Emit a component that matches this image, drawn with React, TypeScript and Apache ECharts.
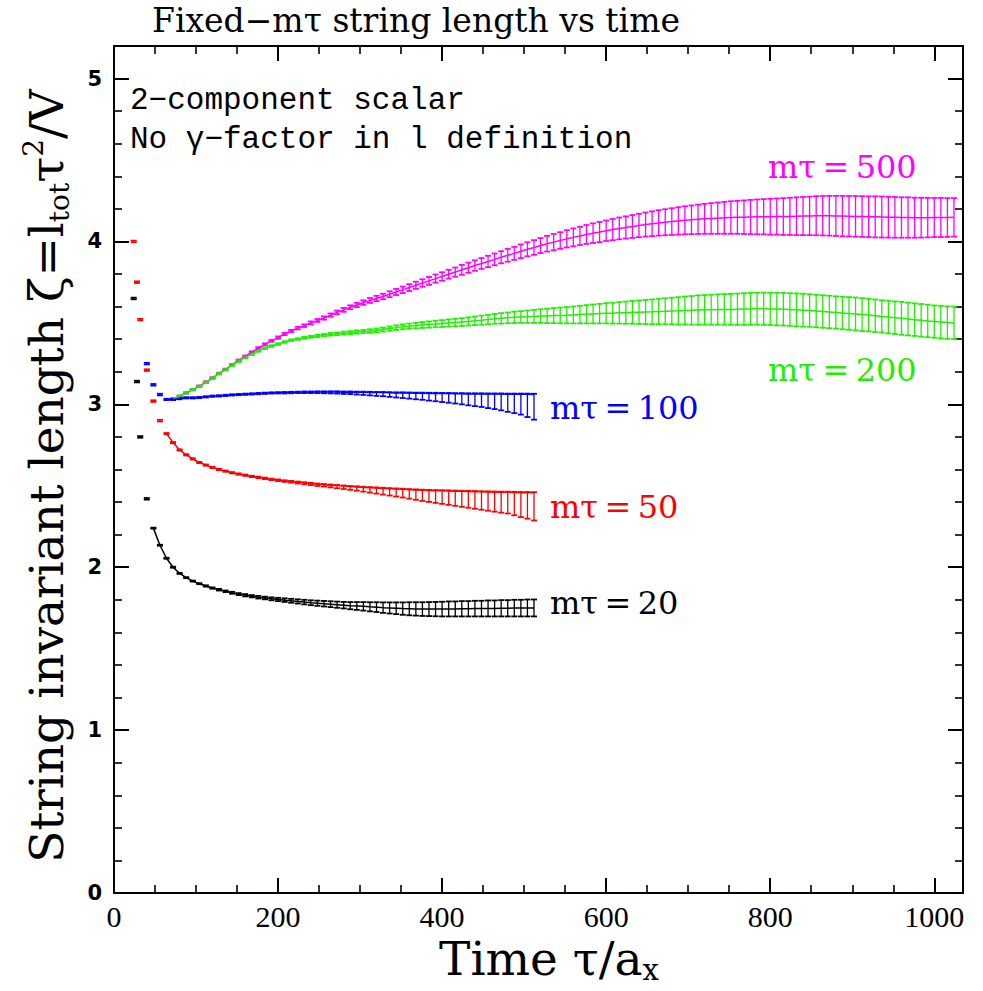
import React, { useEffect, useRef } from "react";
import * as echarts from "echarts";

// ---------------- data ----------------
// mτ=20 (black)
const T_BLACK_EARLY = [24, 28, 32, 40];
const V_BLACK_EARLY = [3.65, 3.14, 2.8, 2.42];
const T_BLACK = [
  48, 56, 64, 72, 80, 88, 96, 104, 112, 120,
  128, 136, 144, 152, 160, 168, 176, 184, 192, 200,
  208, 216, 224, 232, 240, 248, 256, 264, 272, 280,
  288, 296, 304, 312, 320, 328, 336, 344, 352, 360,
  368, 376, 384, 392, 400, 408, 416, 424, 432, 440,
  448, 456, 464, 472, 480, 488, 496, 504, 512,
];
const V_BLACK = [
  2.24, 2.135, 2.055, 2.0, 1.962, 1.936, 1.915, 1.899, 1.885, 1.872,
  1.862, 1.852, 1.843, 1.835, 1.828, 1.822, 1.816, 1.811, 1.806, 1.802,
  1.798, 1.794, 1.79, 1.786, 1.782, 1.779, 1.776, 1.773, 1.77, 1.767,
  1.764, 1.762, 1.76, 1.757, 1.755, 1.752, 1.75, 1.748, 1.746, 1.745,
  1.744, 1.743, 1.743, 1.743, 1.743, 1.744, 1.744, 1.745, 1.745, 1.746,
  1.746, 1.747, 1.747, 1.748, 1.748, 1.749, 1.749, 1.75, 1.75,
];
const E_BLACK = [
  0.003, 0.003, 0.003, 0.003, 0.003, 0.003, 0.003, 0.003, 0.004, 0.004,
  0.005, 0.005, 0.006, 0.006, 0.007, 0.007, 0.008, 0.008, 0.009, 0.01,
  0.011, 0.012, 0.013, 0.014, 0.015, 0.016, 0.017, 0.018, 0.019, 0.02,
  0.022, 0.024, 0.026, 0.028, 0.03, 0.032, 0.034, 0.036, 0.038, 0.04,
  0.041, 0.042, 0.043, 0.044, 0.045, 0.046, 0.046, 0.047, 0.047, 0.048,
  0.048, 0.049, 0.049, 0.05, 0.05, 0.051, 0.051, 0.052, 0.052,
];

// shared time grid of the mτ=50 and mτ=100 runs
const T_SHORT = [
  64, 72, 80, 88, 96, 104, 112, 120, 128, 136,
  144, 152, 160, 168, 176, 184, 192, 200, 208, 216,
  224, 232, 240, 248, 256, 264, 272, 280, 288, 296,
  304, 312, 320, 328, 336, 344, 352, 360, 368, 376,
  384, 392, 400, 408, 416, 424, 432, 440, 448, 456,
  464, 472, 480, 488, 496, 504, 512,
];

// mτ=50 (red)
const T_RED_EARLY = [24, 28, 32, 40, 48, 56];
const V_RED_EARLY = [4.0, 3.75, 3.52, 3.21, 3.02, 2.9];
const V_RED = [
  2.82, 2.765, 2.72, 2.69, 2.665, 2.643, 2.627, 2.613, 2.6, 2.59,
  2.58, 2.572, 2.565, 2.558, 2.552, 2.546, 2.54, 2.535, 2.53, 2.526,
  2.522, 2.518, 2.514, 2.51, 2.507, 2.504, 2.501, 2.498, 2.495, 2.493,
  2.49, 2.488, 2.486, 2.484, 2.482, 2.48, 2.478, 2.476, 2.474, 2.472,
  2.471, 2.47, 2.469, 2.468, 2.467, 2.466, 2.465, 2.464, 2.463, 2.462,
  2.461, 2.46, 2.46, 2.459, 2.458, 2.458, 2.457,
];
const ELO_RED = [
  0.004, 0.004, 0.004, 0.004, 0.004, 0.004, 0.004, 0.004, 0.004, 0.004,
  0.004, 0.004, 0.004, 0.005, 0.005, 0.005, 0.005, 0.006, 0.006, 0.007,
  0.008, 0.009, 0.01, 0.011, 0.012, 0.014, 0.016, 0.018, 0.02, 0.023,
  0.026, 0.03, 0.034, 0.038, 0.042, 0.046, 0.05, 0.055, 0.06, 0.065,
  0.07, 0.075, 0.08, 0.085, 0.09, 0.095, 0.1, 0.105, 0.11, 0.115,
  0.12, 0.125, 0.13, 0.14, 0.15, 0.16, 0.17,
];
const EHI_RED = 0.004;

// mτ=100 (blue)
const T_BLUE_EARLY = [40, 48, 56];
const V_BLUE_EARLY = [3.25, 3.12, 3.06];
const V_BLUE = [
  3.03, 3.03, 3.035, 3.04, 3.04, 3.042, 3.046, 3.05, 3.052, 3.055,
  3.058, 3.06, 3.062, 3.064, 3.066, 3.068, 3.07, 3.071, 3.072, 3.073,
  3.074, 3.075, 3.075, 3.076, 3.076, 3.076, 3.076, 3.075, 3.075, 3.074,
  3.074, 3.073, 3.072, 3.072, 3.071, 3.07, 3.07, 3.069, 3.068, 3.068,
  3.067, 3.067, 3.066, 3.066, 3.065, 3.065, 3.064, 3.064, 3.064, 3.063,
  3.063, 3.063, 3.062, 3.062, 3.062, 3.062, 3.061,
];
const ELO_BLUE = [
  0.004, 0.004, 0.004, 0.004, 0.004, 0.004, 0.004, 0.004, 0.004, 0.004,
  0.004, 0.004, 0.004, 0.004, 0.004, 0.004, 0.004, 0.004, 0.005, 0.005,
  0.005, 0.006, 0.006, 0.007, 0.008, 0.009, 0.01, 0.011, 0.012, 0.014,
  0.016, 0.018, 0.02, 0.022, 0.025, 0.028, 0.031, 0.034, 0.037, 0.04,
  0.044, 0.048, 0.052, 0.056, 0.06, 0.065, 0.07, 0.075, 0.08, 0.086,
  0.092, 0.1, 0.108, 0.116, 0.125, 0.14, 0.155,
];
const EHI_BLUE = 0.004;

// shared time grid of the mτ=200 and mτ=500 runs
const T_LONG = [
  72, 80, 88, 96, 104, 112, 120, 128, 136, 144,
  152, 160, 168, 176, 184, 192, 200, 208, 216, 224,
  232, 240, 248, 256, 264, 272, 280, 288, 296, 304,
  312, 320, 328, 336, 344, 352, 360, 368, 376, 384,
  392, 400, 408, 416, 424, 432, 440, 448, 456, 464,
  472, 480, 488, 496, 504, 512, 520, 528, 536, 544,
  552, 560, 568, 576, 584, 592, 600, 608, 616, 624,
  632, 640, 648, 656, 664, 672, 680, 688, 696, 704,
  712, 720, 728, 736, 744, 752, 760, 768, 776, 784,
  792, 800, 808, 816, 824, 832, 840, 848, 856, 864,
  872, 880, 888, 896, 904, 912, 920, 928, 936, 944,
  952, 960, 968, 976, 984, 992, 1000, 1008, 1016, 1024,
];

// mτ=200 (green)
const V_GREEN = [
  3.035, 3.05, 3.07, 3.09, 3.11, 3.135, 3.16, 3.188, 3.212, 3.24,
  3.265, 3.288, 3.308, 3.328, 3.344, 3.358, 3.37, 3.383, 3.394, 3.401,
  3.408, 3.415, 3.42, 3.425, 3.43, 3.433, 3.437, 3.44, 3.444, 3.447,
  3.45, 3.454, 3.459, 3.465, 3.471, 3.476, 3.48, 3.484, 3.487, 3.49,
  3.493, 3.496, 3.499, 3.502, 3.505, 3.509, 3.513, 3.517, 3.521, 3.525,
  3.528, 3.531, 3.534, 3.536, 3.538, 3.54, 3.542, 3.543, 3.545, 3.546,
  3.547, 3.549, 3.551, 3.553, 3.555, 3.557, 3.559, 3.56, 3.562, 3.563,
  3.565, 3.566, 3.567, 3.568, 3.57, 3.571, 3.573, 3.574, 3.576, 3.577,
  3.579, 3.58, 3.581, 3.582, 3.583, 3.583, 3.584, 3.585, 3.586, 3.587,
  3.587, 3.586, 3.585, 3.584, 3.582, 3.58, 3.578, 3.576, 3.573, 3.57,
  3.567, 3.564, 3.561, 3.558, 3.555, 3.551, 3.548, 3.544, 3.54, 3.536,
  3.532, 3.528, 3.524, 3.52, 3.516, 3.512, 3.508, 3.505, 3.502, 3.5,
];
const E_GREEN = [
  0.004, 0.004, 0.004, 0.004, 0.004, 0.004, 0.004, 0.004, 0.004, 0.004,
  0.005, 0.005, 0.005, 0.005, 0.005, 0.005, 0.005, 0.005, 0.005, 0.005,
  0.006, 0.006, 0.007, 0.007, 0.008, 0.008, 0.009, 0.009, 0.01, 0.01,
  0.011, 0.012, 0.012, 0.013, 0.014, 0.015, 0.016, 0.017, 0.018, 0.019,
  0.02, 0.021, 0.022, 0.023, 0.024, 0.025, 0.026, 0.028, 0.029, 0.03,
  0.032, 0.033, 0.035, 0.036, 0.038, 0.04, 0.042, 0.044, 0.046, 0.048,
  0.05, 0.052, 0.054, 0.056, 0.058, 0.06, 0.062, 0.064, 0.066, 0.068,
  0.07, 0.072, 0.074, 0.076, 0.078, 0.08, 0.082, 0.084, 0.086, 0.088,
  0.09, 0.091, 0.092, 0.093, 0.094, 0.095, 0.096, 0.097, 0.098, 0.098,
  0.099, 0.099, 0.1, 0.1, 0.1, 0.101, 0.101, 0.1, 0.1, 0.1,
  0.1, 0.099, 0.1, 0.1, 0.101, 0.101, 0.1, 0.1, 0.099, 0.1,
  0.1, 0.101, 0.101, 0.1, 0.1, 0.1, 0.099, 0.1, 0.1, 0.1,
];

// mτ=500 (magenta)
const V_MAGENTA = [
  3.035, 3.05, 3.07, 3.09, 3.112, 3.137, 3.162, 3.19, 3.215, 3.243,
  3.27, 3.295, 3.32, 3.345, 3.368, 3.39, 3.41, 3.432, 3.45, 3.468,
  3.483, 3.5, 3.515, 3.53, 3.548, 3.565, 3.58, 3.596, 3.61, 3.625,
  3.638, 3.65, 3.662, 3.676, 3.69, 3.703, 3.717, 3.731, 3.745, 3.758,
  3.772, 3.785, 3.799, 3.812, 3.826, 3.839, 3.852, 3.865, 3.877, 3.89,
  3.903, 3.915, 3.927, 3.94, 3.952, 3.963, 3.975, 3.986, 3.996, 4.006,
  4.016, 4.025, 4.034, 4.043, 4.051, 4.058, 4.066, 4.073, 4.08, 4.086,
  4.092, 4.098, 4.104, 4.109, 4.114, 4.118, 4.122, 4.126, 4.13, 4.133,
  4.136, 4.139, 4.141, 4.143, 4.145, 4.147, 4.148, 4.149, 4.15, 4.151,
  4.152, 4.152, 4.153, 4.153, 4.154, 4.155, 4.156, 4.157, 4.158, 4.158,
  4.158, 4.157, 4.156, 4.155, 4.154, 4.153, 4.152, 4.151, 4.15, 4.149,
  4.148, 4.147, 4.147, 4.146, 4.146, 4.146, 4.147, 4.147, 4.147, 4.148,
];
const E_MAGENTA = [
  0.004, 0.004, 0.004, 0.004, 0.004, 0.004, 0.004, 0.004, 0.004, 0.004,
  0.005, 0.005, 0.005, 0.006, 0.006, 0.006, 0.007, 0.007, 0.007, 0.008,
  0.008, 0.009, 0.009, 0.01, 0.01, 0.011, 0.012, 0.012, 0.013, 0.014,
  0.015, 0.016, 0.017, 0.018, 0.019, 0.02, 0.021, 0.022, 0.023, 0.024,
  0.025, 0.026, 0.027, 0.028, 0.03, 0.031, 0.032, 0.033, 0.035, 0.036,
  0.037, 0.039, 0.04, 0.042, 0.043, 0.045, 0.046, 0.048, 0.05, 0.051,
  0.053, 0.055, 0.056, 0.058, 0.06, 0.062, 0.063, 0.065, 0.067, 0.068,
  0.07, 0.072, 0.074, 0.076, 0.078, 0.08, 0.082, 0.084, 0.086, 0.088,
  0.09, 0.092, 0.094, 0.096, 0.098, 0.1, 0.101, 0.103, 0.105, 0.107,
  0.108, 0.11, 0.111, 0.113, 0.114, 0.116, 0.117, 0.118, 0.12, 0.121,
  0.122, 0.123, 0.124, 0.124, 0.125, 0.125, 0.125, 0.126, 0.126, 0.125,
  0.125, 0.124, 0.124, 0.123, 0.122, 0.121, 0.12, 0.12, 0.119, 0.118,
];

const EARLY_ERR = 0.005;

// axis ranges / ticks
const X_MIN = 0;
const X_MAX = 1035;
const X_MAJOR = 200;
const X_MINOR = 50;
const Y_MIN = 0;
const Y_MAX = 5.2;
const Y_MAJOR = 1;
const Y_MINOR = 0.2;

// texts
const TITLE = "Fixed\u2212m\u03c4 string length vs time";
const NOTE_1 = "2\u2212component scalar";
const NOTE_2 = "No \u03b3\u2212factor in l definition";
const LABELS = [
  { text: "m\u03c4\u2009=\u2009500", color: "#ff00ff", x: 768, y: 167 },
  { text: "m\u03c4\u2009=\u2009200", color: "#22ee00", x: 768, y: 370 },
  { text: "m\u03c4\u2009=\u2009100", color: "#0000ff", x: 550, y: 408 },
  { text: "m\u03c4\u2009=\u200950", color: "#ff0000", x: 550, y: 507 },
  { text: "m\u03c4\u2009=\u200920", color: "#000000", x: 550, y: 603 },
];

// -----------------------------------------------------------------
const SERIF = '"DejaVu Serif", serif';
const MONO = '"Liberation Mono", "DejaVu Sans Mono", monospace';

type Num = number | number[];
const at = (e: Num, i: number) => (Array.isArray(e) ? e[i] : e);
function errRows(t: number[], v: number[], lo: Num, hi: Num) {
  return t.map((x, i) => [x, v[i], v[i] - at(lo, i), v[i] + at(hi, i)]);
}
function lineRows(t: number[], v: number[]) {
  return t.map((x, i) => [x, v[i]]);
}

const makeRender = (color: string) => (_params: any, api: any) => {
  const x = api.value(0);
  const lo = api.coord([x, api.value(2)]);
  const hi = api.coord([x, api.value(3)]);
  const hw = 3;
  return {
    type: "group",
    children: [
      { type: "line", shape: { x1: lo[0], y1: lo[1], x2: hi[0], y2: hi[1] }, style: { stroke: color, lineWidth: 1.3 } },
      { type: "line", shape: { x1: lo[0] - hw, y1: lo[1], x2: lo[0] + hw, y2: lo[1] }, style: { stroke: color, lineWidth: 1.8 } },
      { type: "line", shape: { x1: hi[0] - hw, y1: hi[1], x2: hi[0] + hw, y2: hi[1] }, style: { stroke: color, lineWidth: 1.8 } },
    ],
  };
};

function seriesFor(
  color: string,
  earlyT: number[],
  earlyV: number[],
  t: number[],
  v: number[],
  lo: Num,
  hi: Num
) {
  const data = [
    ...errRows(earlyT, earlyV, EARLY_ERR, EARLY_ERR),
    ...errRows(t, v, lo, hi),
  ];
  return [
    {
      type: "line",
      data: lineRows(t, v),
      showSymbol: false,
      symbol: "none",
      lineStyle: { color, width: 1.5 },
      silent: true,
      xAxisIndex: 0,
      yAxisIndex: 0,
    },
    {
      type: "custom",
      data,
      renderItem: makeRender(color),
      silent: true,
      xAxisIndex: 0,
      yAxisIndex: 0,
    },
  ];
}

const axisLineStyle = { color: "#000", width: 2 };

function xAxisDef(position: "top" | "bottom", major: boolean) {
  return {
    type: "value",
    position,
    min: X_MIN,
    max: X_MAX,
    interval: major ? X_MAJOR : X_MINOR,
    splitLine: { show: false },
    axisLine: { show: major, onZero: false, lineStyle: axisLineStyle },
    axisTick: {
      show: true,
      inside: true,
      length: major ? 15 : 8,
      lineStyle: { color: "#000", width: major ? 2 : 1.6 },
    },
    axisLabel: {
      show: major && position === "bottom",
      margin: 8,
      color: "#000",
      fontFamily: '"Liberation Serif", serif',
      fontSize: 30,
      formatter: (val: number) => (val % X_MAJOR === 0 ? String(val) : ""),
    },
  };
}

function yAxisDef(position: "left" | "right", major: boolean) {
  return {
    type: "value",
    position,
    min: Y_MIN,
    max: Y_MAX,
    interval: major ? Y_MAJOR : Y_MINOR,
    splitLine: { show: false },
    axisLine: { show: major, onZero: false, lineStyle: axisLineStyle },
    axisTick: {
      show: true,
      inside: true,
      length: major ? 15 : 8,
      lineStyle: { color: "#000", width: major ? 2 : 1.6 },
    },
    axisLabel: {
      show: major && position === "left",
      margin: 12,
      color: "#000",
      fontFamily: '"DejaVu Sans", sans-serif',
      fontWeight: "bold",
      fontSize: 21,
      formatter: (val: number) =>
        Math.abs(val - Math.round(val)) < 1e-6 && val <= 5 ? String(Math.round(val)) : "",
    },
  };
}

export default function App() {
  const ref = useRef<HTMLDivElement>(null);

  useEffect(() => {
    document.body.style.margin = "0";
    if (!ref.current) return;
    const chart = echarts.init(ref.current, undefined, { renderer: "svg" });

    const series = [
      ...seriesFor("#ff00ff", [], [], T_LONG, V_MAGENTA, E_MAGENTA, E_MAGENTA),
      ...seriesFor("#22ee00", [], [], T_LONG, V_GREEN, E_GREEN, E_GREEN),
      ...seriesFor("#0000ff", T_BLUE_EARLY, V_BLUE_EARLY, T_SHORT, V_BLUE, ELO_BLUE, EHI_BLUE),
      ...seriesFor("#ff0000", T_RED_EARLY, V_RED_EARLY, T_SHORT, V_RED, ELO_RED, EHI_RED),
      ...seriesFor("#000000", T_BLACK_EARLY, V_BLACK_EARLY, T_BLACK, V_BLACK, E_BLACK, E_BLACK),
    ];

    const graphic: any[] = [
      {
        type: "text",
        x: 152,
        y: 20,
        style: { text: TITLE, fill: "#000", font: `33px ${SERIF}`, align: "left", verticalAlign: "middle" },
      },
      {
        type: "text",
        x: 130,
        y: 100,
        style: { text: NOTE_1, fill: "#000", font: `31px ${MONO}`, align: "left", verticalAlign: "middle" },
      },
      {
        type: "text",
        x: 130,
        y: 139,
        style: { text: NOTE_2, fill: "#000", font: `31px ${MONO}`, align: "left", verticalAlign: "middle" },
      },
      ...LABELS.map((l) => ({
        type: "text",
        x: l.x,
        y: l.y,
        style: { text: l.text, fill: l.color, font: `32px ${SERIF}`, align: "left", verticalAlign: "middle" },
      })),
      {
        type: "text",
        x: 46,
        y: 476,
        rotation: Math.PI / 2,
        style: {
          text: "String invariant length \u03b6=l{sub|tot}\u03c4{sup|2}/V",
          fill: "#000",
          fontFamily: SERIF,
          fontSize: 47,
          lineHeight: 54,
          align: "center",
          verticalAlign: "middle",
          rich: {
            sub: { fontFamily: SERIF, fontSize: 28, fill: "#000", verticalAlign: "bottom", lineHeight: 54 },
            sup: { fontFamily: SERIF, fontSize: 28, fill: "#000", verticalAlign: "top", lineHeight: 54 },
          },
        },
      },
      {
        type: "text",
        x: 549,
        y: 958,
        style: {
          text: "Time \u03c4/a{sub|x}",
          fill: "#000",
          fontFamily: SERIF,
          fontSize: 47,
          lineHeight: 52,
          align: "center",
          verticalAlign: "middle",
          rich: {
            sub: { fontFamily: SERIF, fontSize: 29, fill: "#000", verticalAlign: "bottom", lineHeight: 52 },
          },
        },
      },
    ];

    chart.setOption({
      animation: false,
      backgroundColor: "#ffffff",
      grid: { left: 114, right: 20, top: 46, bottom: 98, containLabel: false },
      xAxis: [xAxisDef("bottom", true), xAxisDef("bottom", false), xAxisDef("top", true), xAxisDef("top", false)],
      yAxis: [yAxisDef("left", true), yAxisDef("left", false), yAxisDef("right", true), yAxisDef("right", false)],
      series,
      graphic,
    } as any);

    return () => chart.dispose();
  }, []);

  return <div ref={ref} style={{ width: 983, height: 991 }} />;
}
